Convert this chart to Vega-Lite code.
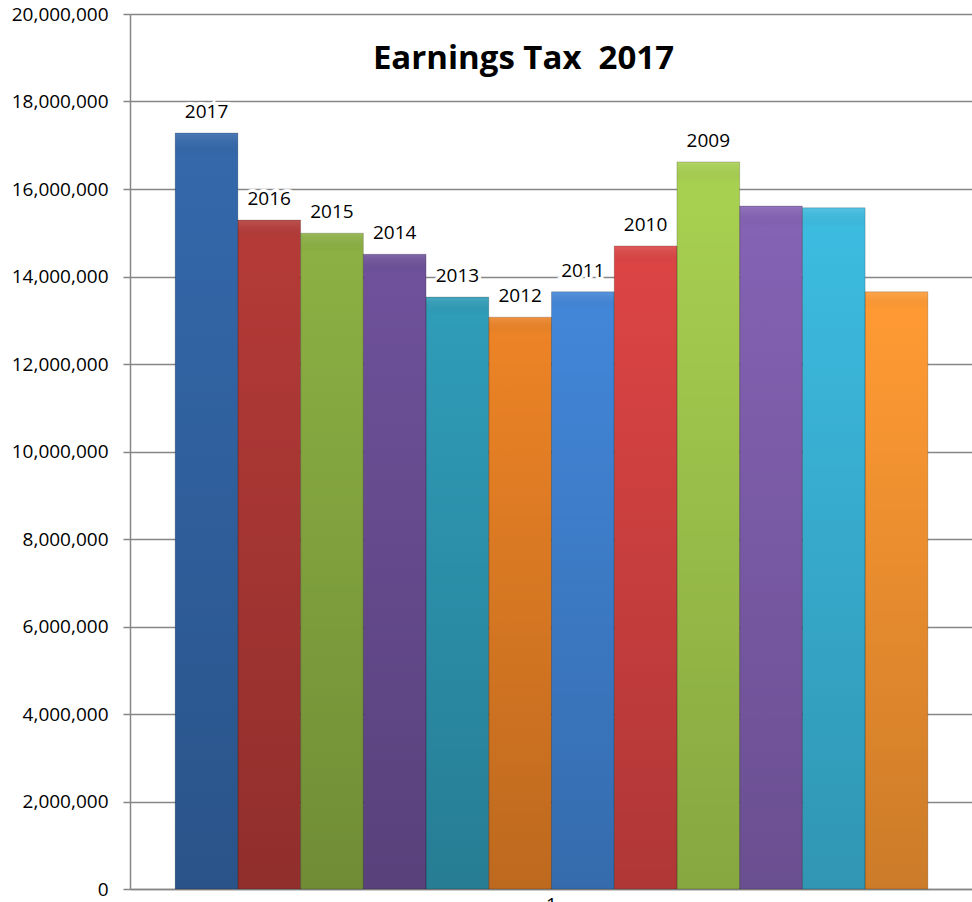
{
  "$schema": "https://vega.github.io/schema/vega-lite/v6.json",
  "autosize": {"type": "none"},
  "padding": {"left": 130, "top": 14, "right": 0, "bottom": 13},
  "width": 843,
  "height": 875,
  "background": "white",
  "title": {
    "text": "Earnings Tax\u00a0\u00a02017",
    "font": "Open Sans",
    "fontSize": 33,
    "fontWeight": "bold",
    "color": "#000000",
    "anchor": "middle",
    "frame": "group",
    "dx": -28,
    "offset": -71
  },
  "data": {
    "values": [
      {"cat": "1", "series": 1, "label": "2017", "value": 17280000},
      {"cat": "1", "series": 2, "label": "2016", "value": 15290000},
      {"cat": "1", "series": 3, "label": "2015", "value": 14990000},
      {"cat": "1", "series": 4, "label": "2014", "value": 14510000},
      {"cat": "1", "series": 5, "label": "2013", "value": 13530000},
      {"cat": "1", "series": 6, "label": "2012", "value": 13070000},
      {"cat": "1", "series": 7, "label": "2011", "value": 13650000},
      {"cat": "1", "series": 8, "label": "2010", "value": 14700000},
      {"cat": "1", "series": 9, "label": "2009", "value": 16620000},
      {"cat": "1", "series": 10, "label": "", "value": 15610000},
      {"cat": "1", "series": 11, "label": "", "value": 15570000},
      {"cat": "1", "series": 12, "label": "", "value": 13650000}
    ]
  },
  "encoding": {
    "x": {
      "field": "cat",
      "type": "nominal",
      "scale": {"paddingInner": 0, "paddingOuter": 0.06},
      "axis": {
        "title": null,
        "labelAngle": 0,
        "labelFont": "Open Sans",
        "labelFontSize": 19,
        "labelColor": "#000000",
        "ticks": false,
        "domainColor": "#868686",
        "domainWidth": 1.5,
        "labelPadding": 6
      }
    },
    "xOffset": {"field": "series", "type": "ordinal", "scale": {"paddingInner": 0, "paddingOuter": 0}},
    "y": {
      "field": "value",
      "type": "quantitative",
      "scale": {"domain": [0, 20000000], "nice": false},
      "axis": {
        "title": null,
        "values": [0, 2000000, 4000000, 6000000, 8000000, 10000000, 12000000, 14000000, 16000000, 18000000, 20000000],
        "format": ",d",
        "labelFont": "Open Sans",
        "labelFontSize": 19,
        "labelColor": "#000000",
        "labelPadding": 15,
        "tickSize": 7,
        "tickColor": "#868686",
        "tickWidth": 1.5,
        "domainColor": "#868686",
        "domainWidth": 1.5,
        "gridColor": "#868686",
        "gridWidth": 1.5
      }
    }
  },
  "layer": [
    {
      "mark": {"type": "bar"},
      "encoding": {
        "color": {
          "field": "series",
          "type": "ordinal",
          "legend": null,
          "scale": {
            "domain": [1, 2, 3, 4, 5, 6, 7, 8, 9, 10, 11, 12],
            "range": ["#3468ab", "#b43a37", "#8cb043", "#6e519a", "#2f9cb8", "#ec8326", "#4286d8", "#dc4444", "#a8d050", "#8462b4", "#3cbbe0", "#ff9a33"]
          }
        }
      }
    },
    {
      "mark": {
        "type": "bar",
        "fill": {
          "gradient": "linear",
          "x1": 0, "y1": 0, "x2": 0, "y2": 1,
          "stops": [
            {"offset": 0, "color": "rgba(255,255,255,0.12)"},
            {"offset": 0.03, "color": "rgba(0,0,0,0)"},
            {"offset": 1, "color": "rgba(0,0,0,0.2)"}
          ]
        },
        "stroke": "rgba(0,0,0,0.18)",
        "strokeWidth": 1
      },
      "encoding": {}
    },
    {
      "mark": {
        "type": "text",
        "baseline": "alphabetic",
        "dy": -15,
        "font": "Open Sans",
        "fontSize": 19,
        "stroke": "white",
        "strokeWidth": 6,
        "fill": "white"
      },
      "encoding": {"text": {"field": "label"}}
    },
    {
      "mark": {
        "type": "text",
        "baseline": "alphabetic",
        "dy": -15,
        "font": "Open Sans",
        "fontSize": 19,
        "fill": "#000000"
      },
      "encoding": {"text": {"field": "label"}}
    }
  ]
}
